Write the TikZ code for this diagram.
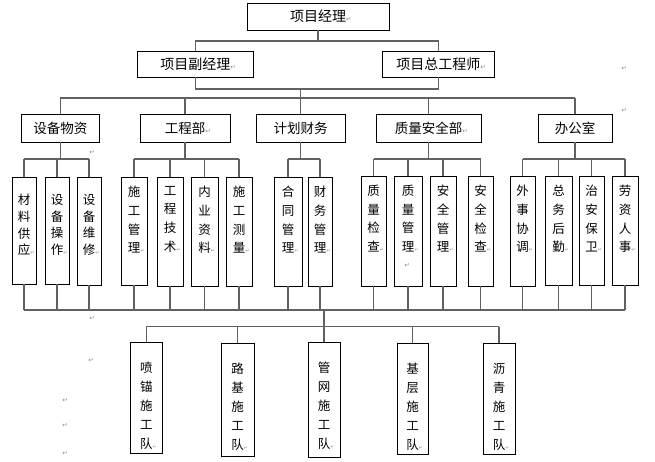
\documentclass[tikz,border=0pt]{standalone}
\usepackage{fontspec}
\usetikzlibrary{fit}
\newfontfamily\cjk{Noto Sans CJK SC}
\newfontfamily\dvs{DejaVu Sans}
\newcommand\retm[1][6.5]{{\dvs\fontsize{#1}{#1}\selectfont\color{black!45}↵}}
\begin{document}
\begin{tikzpicture}[x=1pt,y=-1pt,
  box/.style={draw=black,line width=0.9pt,inner sep=0pt,fill=white},
  conn/.style={draw=black!62,line width=1.3pt},
  lvA/.style={font=\cjk\fontsize{14}{16}\selectfont,inner sep=0pt},
  lvB/.style={font=\cjk\fontsize{13.5}{16}\selectfont,inner sep=0pt},
  vtxt/.style={align=center,inner sep=0pt,anchor=north},
  retnode/.style={inner sep=0pt}
]
\useasboundingbox (0,0) rectangle (655,461);
% ---- top levels
\node[box,fit={(247,3) (389,30)}] (pm) {};
\node[box,fit={(137.5,51) (253,77)}] (dpm) {};
\node[box,fit={(382.5,51) (494,77)}] (cte) {};
\node[lvA] (pm-t) at (pm.center) {项目经理\rlap{\retm}};
\node[lvA] (dpm-t) at (dpm.center) {项目副经理\rlap{\retm}};
\node[lvA] (cte-t) at (cte.center) {项目总工程师\rlap{\retm}};
% ---- departments
\node[box,fit={(21.7,114) (99,142)}] (d1) {};
\node[box,fit={(140,114) (230,142)}] (d2) {};
\node[box,fit={(256,114) (345,142)}] (d3) {};
\node[box,fit={(376,114) (481,142)}] (d4) {};
\node[box,fit={(538,114) (612,142)}] (d5) {};
\node[lvB] (d1-t) at (d1.center) {设备物资};
\node[lvB] (d2-t) at (d2.center) {工程部\rlap{\retm}};
\node[lvB] (d3-t) at (d3.center) {计划财务};
\node[lvB] (d4-t) at (d4.center) {质量安全部\rlap{\retm}};
\node[lvB] (d5-t) at (d5.center) {办公室};
% ---- sub units
\foreach \n/\xa/\ya/\xb/\yb/\off/\bs/\t in {
  s1/12/177/36/284/17.4/16.7/{材\\料\\供\\应},
  s2/45/177/69/284/17.4/16.7/{设\\备\\操\\作},
  s3/77/177/101/285/17.4/16.7/{设\\备\\维\\修},
  s4/121/177/147/285/9.4/18.7/{施\\工\\管\\理},
  s5/157/177/183/286/9.4/18.7/{工\\程\\技\\术},
  s6/191/177/218/286/9.4/18.7/{内\\业\\资\\料},
  s7/226/177/252/286/9.4/18.7/{施\\工\\测\\量},
  s8/274/177/302/286/9.4/18.7/{合\\同\\管\\理},
  s9/308/177/332/286/9.4/18.7/{财\\务\\管\\理},
  s10/361/176/386/286/9.4/18.7/{质\\量\\检\\查},
  s11/394/176/422/286/9.4/18.7/{质\\量\\管\\理},
  s12/430/176/456/286/9.4/18.7/{安\\全\\管\\理},
  s13/468/176/493/286/9.4/18.7/{安\\全\\检\\查},
  s14/510/176/535/286/9.4/18.7/{外\\事\\协\\调},
  s15/545/176/572/285/9.4/18.7/{总\\务\\后\\勤},
  s16/579/176/604/285/9.4/18.7/{治\\安\\保\\卫},
  s17/612/176/638/285/9.4/18.7/{劳\\资\\人\\事}}{
  \node[box,fit={(\xa,\ya) (\xb,\yb)}] (\n) {};
  \node[vtxt,font=\cjk\fontsize{12.5}{\bs}\selectfont] (\n-t) at ([yshift=-\off pt]\n.north) {\t\rlap{\retm[5]}};
}
% ---- teams
\foreach \n/\xa/\ya/\xb/\yb/\t in {
  t1/130/342/162.5/453/{喷\\锚\\施\\工\\队},
  t2/221/343/254/456/{路\\基\\施\\工\\队},
  t3/308/342/340/457/{管\\网\\施\\工\\队},
  t4/397/343/428/454/{基\\层\\施\\工\\队},
  t5/483/343/515/454/{沥\\青\\施\\工\\队}}{
  \node[box,fit={(\xa,\ya) (\xb,\yb)}] (\n) {};
  \node[vtxt,font=\cjk\fontsize{12.5}{19}\selectfont] (\n-t) at ([yshift=-20.4pt]\n.north) {\t\rlap{\retm[4.5]}};
}
% ---- bus levels
\coordinate (yA) at (0,41);
\coordinate (yB) at (0,89);
\coordinate (yC) at (0,98);
\coordinate (yD) at (0,159);
\coordinate (yE) at (0,310);
\coordinate (yF) at (0,326.7);
% ---- connectors
\draw[conn] (pm.south) -- (pm.south |- yA);
\draw[conn] (dpm.north) -- (dpm.north |- yA) -- (cte.north |- yA) -- (cte.north);
\draw[conn] (dpm.south) -- (dpm.south |- yB) -- (cte.south |- yB) -- (cte.south);
\draw[conn] (d3.north |- yB) -- (d3.north |- yC);
\draw[conn] (d1.north |- yC) -- (d5.north |- yC);
\foreach \d in {d1,d2,d3,d4,d5} \draw[conn] (\d.north |- yC) -- (\d.north);
\foreach \d in {d1,d2,d3,d4,d5} \draw[conn] (\d.south) -- (\d.south |- yD);
\draw[conn] (s1.north |- yD) -- (s3.north |- yD);
\draw[conn] (s4.north |- yD) -- (s7.north |- yD);
\draw[conn] (s8.north |- yD) -- (s9.north |- yD);
\draw[conn] (s10.north |- yD) -- (s13.north |- yD);
\draw[conn] (s14.north |- yD) -- (s17.north |- yD);
\foreach \s in {s1,s2,s3,s4,s5,s6,s7,s8,s9,s10,s11,s12,s13,s14,s15,s16,s17}{
  \draw[conn] (\s.north |- yD) -- (\s.north);
  \draw[conn] (\s.south) -- (\s.south |- yE);
}
\draw[conn] (s1.south |- yE) -- (s17.south |- yE);
\draw[conn] (t3.north |- yE) -- (t3.north);
\draw[conn] (t1.north |- yF) -- (t5.north |- yF);
\foreach \t in {t1,t2,t4,t5} \draw[conn] (\t.north |- yF) -- (\t.north);
% ---- paragraph marks
\node[retnode] (r1) at (624,68) {\retm};
\node[retnode] (r2) at (624,110) {\retm};
\node[retnode] (r3) at (92,152) {\retm};
\node[retnode] (r4) at (92,318) {\retm};
\node[retnode] (r5) at (91,360) {\retm};
\node[retnode] (r6) at (65,400) {\retm};
\node[retnode] (r7) at (65,425) {\retm};
\node[retnode] (r8) at (65,453) {\retm};
\node[retnode] (r9) at (407,265) {\retm};
\end{tikzpicture}
\end{document}
